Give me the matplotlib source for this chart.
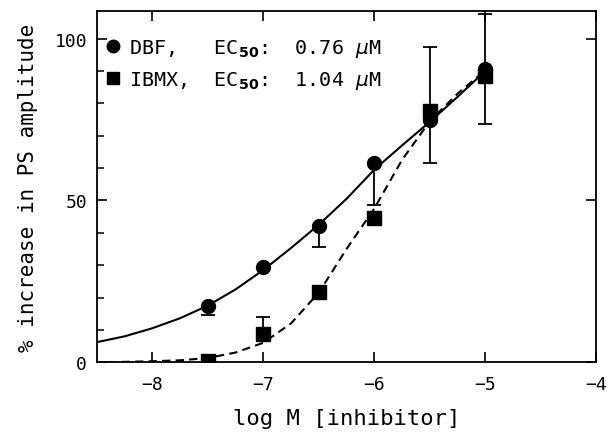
import numpy as np
import matplotlib
matplotlib.use("Agg")
import matplotlib.pyplot as plt
from matplotlib.ticker import MultipleLocator

plt.rcParams['font.family'] = ['DejaVu Sans Mono', 'DejaVu Sans']
plt.rcParams['mathtext.fontset'] = 'dejavusans'

# measured points (log M, % increase)
dose = [-7.5, -7.0, -6.5, -6.0, -5.5, -5.0]
dbf = [17.5, 29.5, 42.0, 61.5, 75.0, 90.5]
dbf_lo = [3.0, 0.0, 6.5, 13.0, 0.0, 17.0]
dbf_hi = [0.0, 0.0, 0.0, 0.0, 0.0, 17.0]
ibmx = [0.3, 8.6, 21.8, 44.7, 77.5, 88.5]
ibmx_lo = [0.0, 0.0, 0.0, 0.0, 16.0, 0.0]
ibmx_hi = [0.0, 5.5, 0.0, 0.0, 20.0, 0.0]

# fitted curves
fit_x_dbf = [-8.5, -8.25, -8.0, -7.75, -7.5, -7.25, -7.0, -6.75, -6.5, -6.25, -6.0, -5.75, -5.5, -5.25, -5.0]
fit_dbf = [6.2, 8.0, 10.5, 13.6, 17.5, 22.5, 28.5, 35.3, 42.5, 50.5, 59.5, 67.0, 74.3, 82.0, 90.0]
fit_x_ibmx = [-8.4, -8.0, -7.75, -7.5, -7.25, -7.0, -6.75, -6.5, -6.25, -6.0, -5.75, -5.5, -5.25, -5.0]
fit_ibmx = [0.0, 0.3, 0.6, 1.3, 3.0, 6.0, 12.0, 21.5, 35.0, 47.5, 62.5, 74.5, 83.0, 90.2]

fig = plt.figure(figsize=(6.09, 4.35), dpi=100)
ax = fig.add_axes([0.159, 0.165, 0.82, 0.807])

ax.plot(fit_x_dbf, fit_dbf, color='black', lw=1.5)
ax.plot(fit_x_ibmx, fit_ibmx, color='black', lw=1.5, linestyle=(0, (4, 2.5)))

ax.errorbar(dose, dbf, yerr=[dbf_lo, dbf_hi], fmt='none', ecolor='black',
            elinewidth=1.3, capsize=5, capthick=1.3, clip_on=False)
ax.errorbar(dose, ibmx, yerr=[ibmx_lo, ibmx_hi], fmt='none', ecolor='black',
            elinewidth=1.3, capsize=5, capthick=1.3, clip_on=False)

h1, = ax.plot(dose, dbf, 'o', color='black', markersize=10,
              label=r'DBF,   EC$_{\mathbf{50}}$:  0.76 $\mu$M')
h2, = ax.plot(dose, ibmx, 's', color='black', markersize=10,
              label=r'IBMX,  EC$_{\mathbf{50}}$:  1.04 $\mu$M')

ax.set_xlim(-8.5, -4)
ax.set_ylim(0, 108.5)
ax.set_xticks([-8, -7, -6, -5, -4])
ax.set_xticklabels(['\u22128', '\u22127', '\u22126', '\u22125', '\u22124'])
ax.set_yticks([0, 50, 100])
ax.yaxis.set_minor_locator(MultipleLocator(10))
ax.tick_params(axis='both', which='major', direction='in', length=7, width=1.2,
               labelsize=13, top=True, right=True)
ax.tick_params(axis='y', which='minor', direction='in', length=5, width=1.1,
               left=True, right=False)
ax.tick_params(axis='x', which='minor', bottom=False, top=False)
ax.tick_params(axis='x', pad=9)
ax.tick_params(axis='y', pad=7)
for s in ax.spines.values():
    s.set_linewidth(1.3)

ax.set_xlabel('log M [inhibitor]', fontsize=16, labelpad=11)
ax.set_ylabel('% increase in PS amplitude', fontsize=15, labelpad=12)

ax.legend(handles=[h1, h2], loc='upper left', frameon=False, fontsize=14.5,
          handlelength=0.6, handletextpad=0.5, bbox_to_anchor=(0.0, 0.955),
          borderaxespad=0.2, labelspacing=0.5, borderpad=0.3, markerscale=0.9)

fig.savefig('out.png', dpi=100)
